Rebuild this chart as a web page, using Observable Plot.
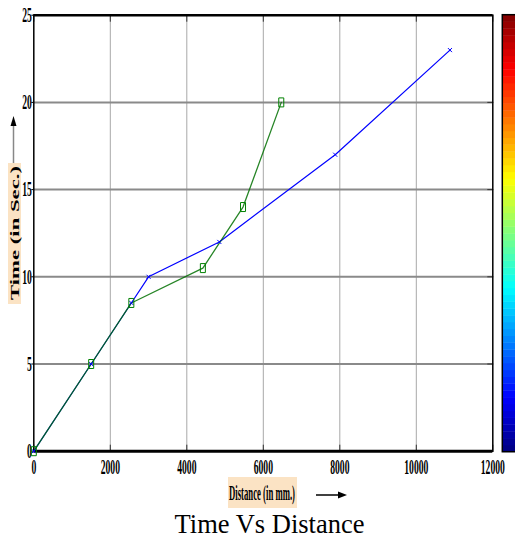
<!DOCTYPE html>
<html><head><meta charset="utf-8">
<script src="https://cdn.jsdelivr.net/npm/d3@7"></script>
<script src="https://cdn.jsdelivr.net/npm/@observablehq/plot@0.6"></script>
<style>body{margin:0;background:#fff}</style>
</head><body><div id="chart"></div>
<script>
const blueDistance = [0, 1500, 2550, 3000, 4850, 7880, 10880];
const blueTime     = [0, 5, 8.5, 10, 12, 17, 23];
const greenDistance = [0, 1500, 2550, 4420, 5470, 6470];
const greenTime     = [0, 5, 8.5, 10.5, 14, 20];
const xTicks = [0, 2000, 4000, 6000, 8000, 10000, 12000];
const yTicks = [0, 5, 10, 15, 20, 25];
const title = "Time Vs Distance";
const xLabel = "Distance (in mm.)";
const yLabel = "Time (in Sec.)";

const blue = blueDistance.map((d, i) => ({distance: d, time: blueTime[i]}));
const green = greenDistance.map((d, i) => ({distance: d, time: greenTime[i]}));
const rectSym = {draw(ctx) { ctx.rect(-2.5, -4.5, 5, 9); }};

const W = 515, H = 542;
const mL = 33.3, mR = W - 492.3, mT = 14.7, mB = H - 450.7;

const chart = Plot.plot({
  width: W, height: H,
  marginLeft: mL, marginRight: mR, marginTop: mT, marginBottom: mB,
  style: {fontFamily: "Liberation Serif", fontSize: "21px", fontWeight: "bold", color: "#000", background: "#fff"},
  x: {domain: [0, 12000], ticks: xTicks},
  y: {domain: [0, 25], ticks: yTicks},
  marks: [
    Plot.gridX(xTicks.slice(1, -1), {stroke: "#a8a8a8", strokeOpacity: 1, strokeWidth: 1}),
    Plot.gridY(yTicks.slice(1, -1), {stroke: "#8a8a8a", strokeOpacity: 1, strokeWidth: 2}),
    Plot.axisX(xTicks, {anchor: "bottom", tickSize: 0, tickPadding: 8, label: null, tickFormat: d3.format("d")}),
    Plot.axisX(xTicks, {anchor: "bottom", tickSize: -6, tickFormat: () => "", label: null, stroke: "#333"}),
    Plot.axisX(xTicks, {anchor: "top", tickSize: -6, tickFormat: () => "", label: null, stroke: "#333"}),
    Plot.axisY(yTicks, {anchor: "left", tickSize: 2, tickPadding: 0, label: null, tickFormat: d3.format("d")}),
    Plot.axisY(yTicks, {anchor: "right", tickSize: -6, tickFormat: () => "", label: null, stroke: "#333"}),
    Plot.frame({stroke: "#000", strokeWidth: 1.5}),
    Plot.ruleY([0], {stroke: "#000", strokeWidth: 3}),
    Plot.ruleY([25], {stroke: "#000", strokeWidth: 2.5}),
    Plot.line(blue, {x: "distance", y: "time", stroke: "#0000ff", strokeWidth: 1.2}),
    Plot.line(green, {x: "distance", y: "time", stroke: "#007000", strokeWidth: 1.3, strokeOpacity: 0.85}),
    Plot.dot(blue, {x: "distance", y: "time", symbol: "times", r: 2, stroke: "#0000ff", strokeWidth: 1}),
    Plot.dot(green, {x: "distance", y: "time", symbol: rectSym, stroke: "#008000", strokeWidth: 1, fill: "none"})
  ]
});
document.getElementById("chart").appendChild(chart);

const svg = d3.select(chart);
// condense tick labels
svg.selectAll('g[aria-label="x-axis tick label"] text, g[aria-label="y-axis tick label"] text')
  .attr("transform", function() { return (this.getAttribute("transform") || "") + " scale(0.46,1)"; });

// colorbar (jet)
const jet = t => {
  const c = v => Math.round(255 * Math.max(0, Math.min(1, v)));
  return `rgb(${c(1.5 - Math.abs(4 * t - 3))},${c(1.5 - Math.abs(4 * t - 2))},${c(1.5 - Math.abs(4 * t - 1))})`;
};
const cbX = 502.3, cbW = 14, cbTop = 14.7, cbBot = 451.7, n = 64;
const cb = svg.append("g");
const bandH = (cbBot - cbTop) / n;
for (let i = 0; i < n; i++) {
  cb.append("rect").attr("x", cbX).attr("width", cbW)
    .attr("y", cbBot - (i + 1) * bandH).attr("height", bandH + 0.4)
    .attr("fill", jet((i + 0.5) / n));
}
cb.append("rect").attr("x", cbX).attr("y", cbTop).attr("width", cbW).attr("height", cbBot - cbTop)
  .attr("fill", "none").attr("stroke", "#000").attr("stroke-width", 1.5);

// y label
svg.append("rect").attr("x", 8).attr("y", 163).attr("width", 13).attr("height", 141).attr("fill", "#fbe3c4");
svg.append("text").attr("transform", "translate(18.5,233) rotate(-90)")
  .attr("text-anchor", "middle").attr("font-family", "Liberation Serif").attr("font-weight", "bold")
  .attr("font-size", 12.5).attr("textLength", 134).attr("lengthAdjust", "spacingAndGlyphs").text(yLabel);
svg.append("line").attr("x1", 13.5).attr("x2", 13.5).attr("y1", 163).attr("y2", 124).attr("stroke", "#888").attr("stroke-width", 1.5);
svg.append("path").attr("d", "M13.5,116 L10.5,126 L16.5,126 Z").attr("fill", "#000");

// x label
svg.append("rect").attr("x", 228).attr("y", 477).attr("width", 69).attr("height", 31).attr("fill", "#fbe3c4");
svg.append("text").attr("x", 262).attr("y", 499.5).attr("text-anchor", "middle")
  .attr("font-family", "Liberation Serif").attr("font-weight", "bold").attr("font-size", 21)
  .attr("textLength", 66).attr("lengthAdjust", "spacingAndGlyphs").text(xLabel);
svg.append("line").attr("x1", 316).attr("x2", 342).attr("y1", 495).attr("y2", 495).attr("stroke", "#000").attr("stroke-width", 1.5);
svg.append("path").attr("d", "M347,495 L338,491.5 L338,498.5 Z").attr("fill", "#000");

// title
svg.append("text").attr("x", 269.5).attr("y", 533).attr("text-anchor", "middle")
  .attr("font-family", "Liberation Serif").attr("font-size", 26.5).attr("font-weight", "normal").text(title);
</script></body></html>
